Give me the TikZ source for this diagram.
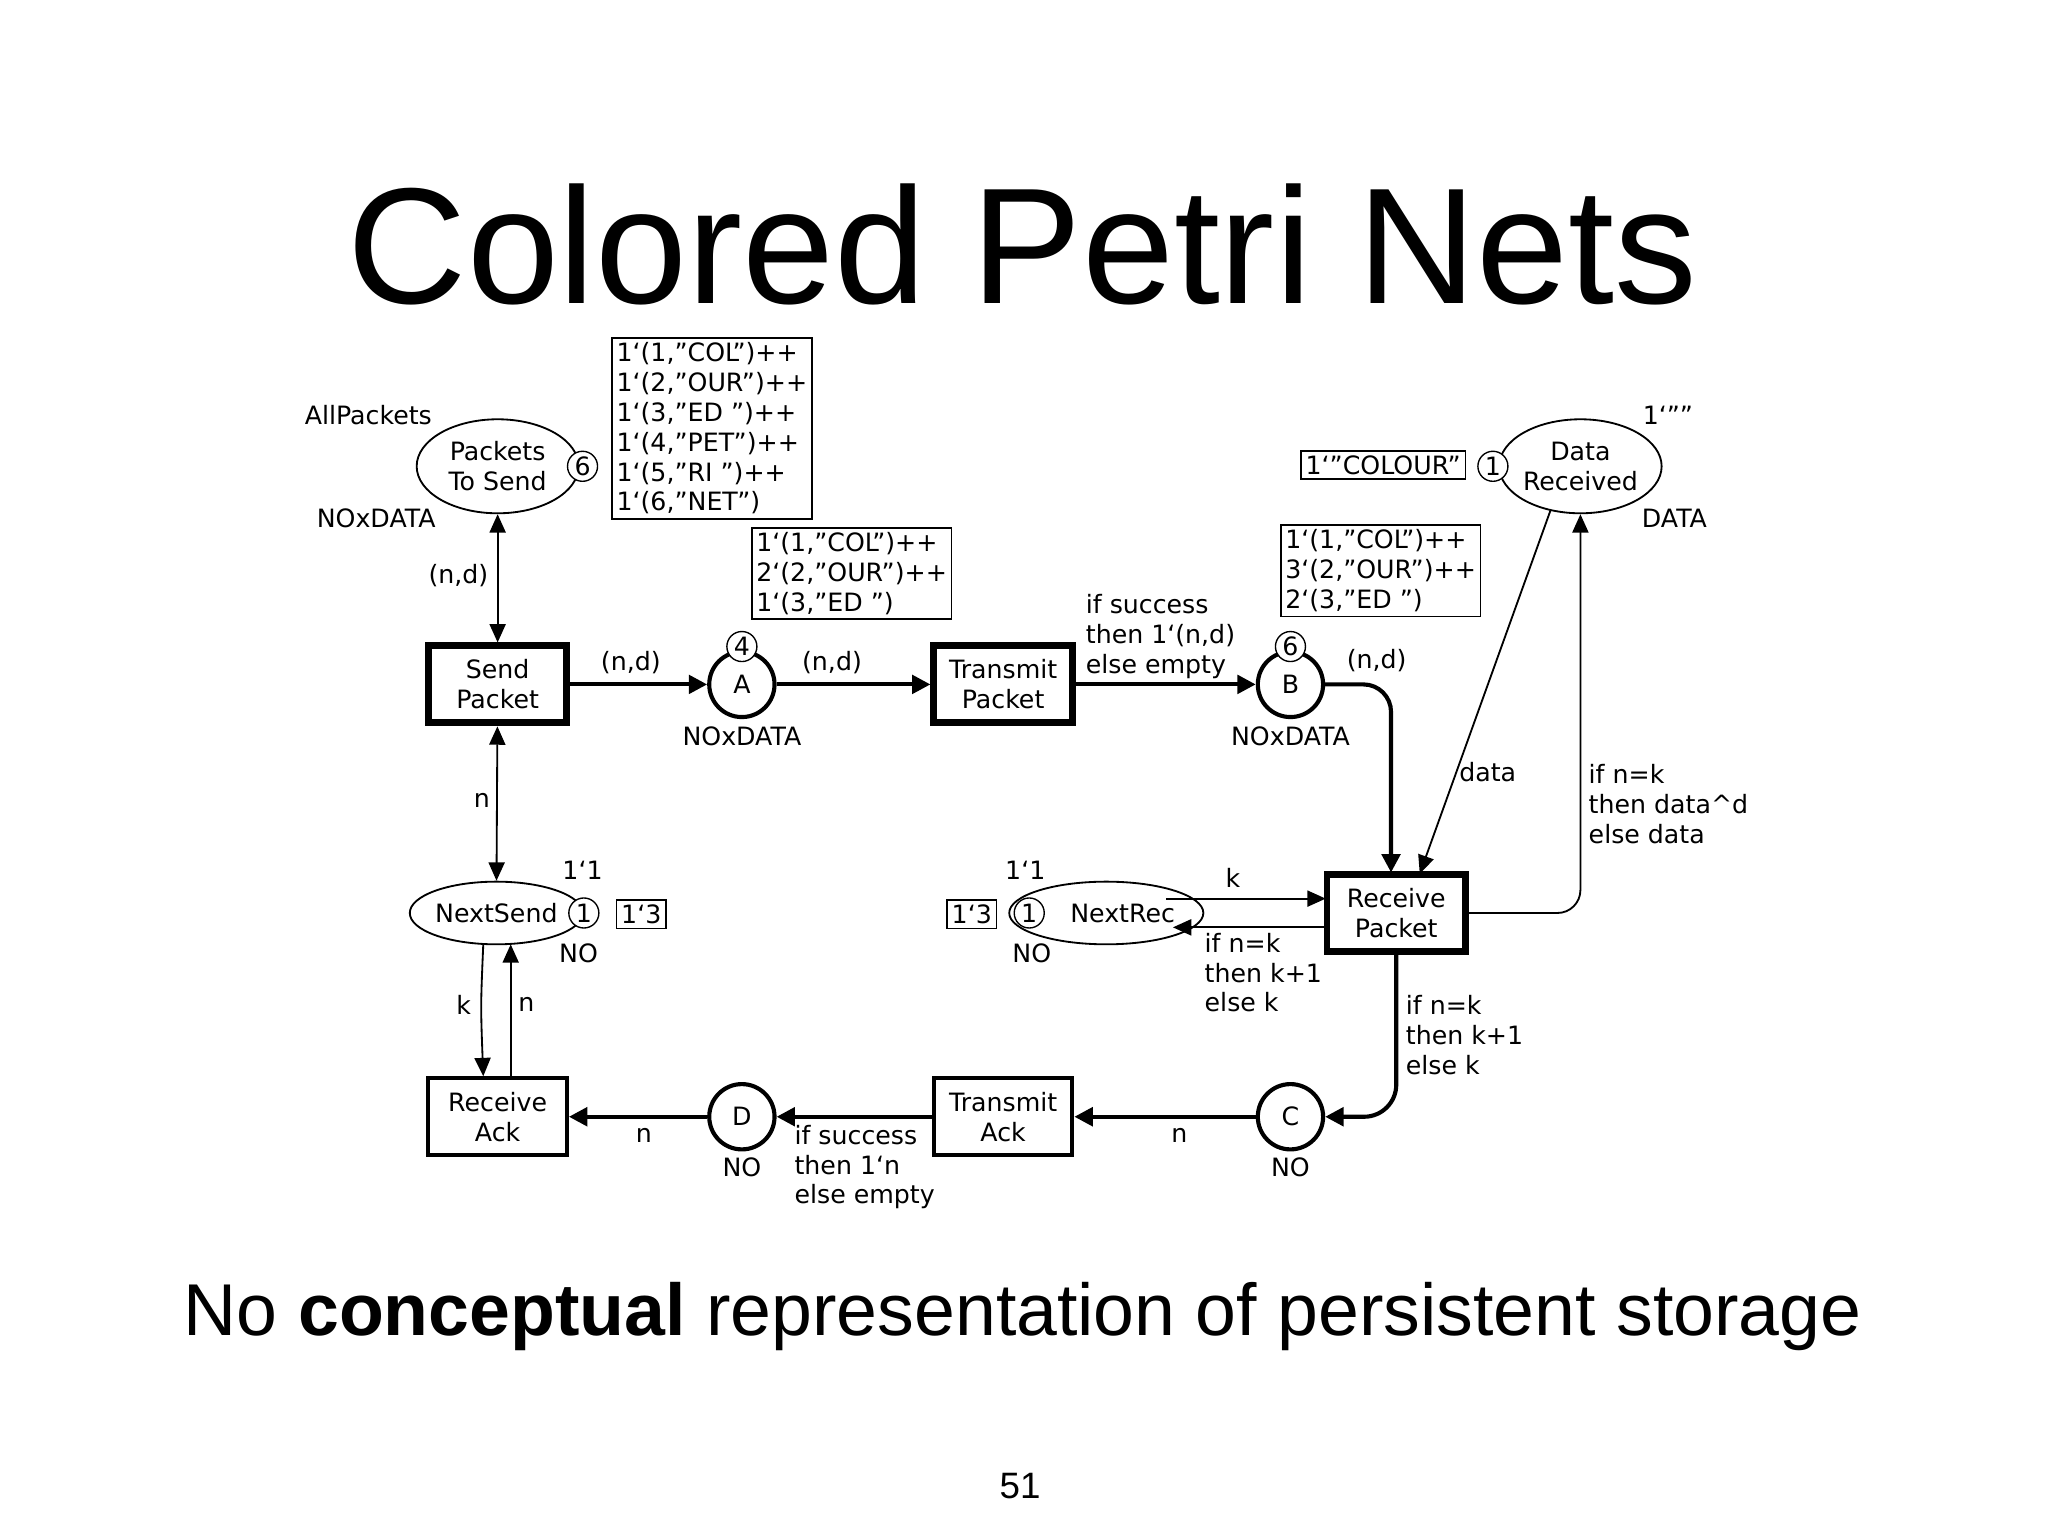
\documentclass[tikz,border=0pt]{standalone}
\usepackage{fontspec}
\setmainfont{DejaVu Sans}
\newfontfamily\titlefont{Liberation Sans}
\usetikzlibrary{arrows.meta,shapes.geometric}
\begin{document}
\begin{tikzpicture}[x=0.02cm,y=-0.02cm,
  every node/.style={font=\fontsize{11}{13}\selectfont},
  lbl/.style={inner sep=0pt,align=left},
  place/.style={draw,ellipse,line width=0.8pt,minimum width=2.48cm,minimum height=1.44cm,align=center,inner sep=0pt},
  smallplace/.style={draw,ellipse,line width=0.8pt,minimum width=2.3cm,minimum height=0.96cm,inner sep=0pt},
  cplace/.style={draw,circle,line width=1.8pt,minimum size=1cm,inner sep=0pt},
  token/.style={draw,circle,line width=0.6pt,minimum size=0.46cm,inner sep=0pt,fill=white},
  trans/.style={draw,rectangle,line width=1.8pt,minimum width=2.12cm,minimum height=1.18cm,align=center,inner sep=0pt},
  btrans/.style={trans,line width=3pt},
  mbox/.style={draw,rectangle,line width=0.7pt,align=left,inner sep=2pt},
  arc/.style={line width=1.8pt,-{Triangle[length=8pt,width=8pt]}},
  tarc/.style={line width=0.8pt,-{Triangle[length=8pt,width=7pt]}},
  darc/.style={line width=0.8pt,{Triangle[length=8pt,width=7pt]}-{Triangle[length=8pt,width=7pt]}}]
\useasboundingbox (0,0) rectangle (1568,1176);
\node[font=\titlefont\fontsize{72}{80}\selectfont] (title) at (783,187) {Colored Petri Nets};
\node[font=\titlefont\fontsize{32}{38}\selectfont] (sub) at (783,1008) {No \textbf{conceptual} representation of persistent storage};
\node[font=\titlefont\fontsize{16}{18}\selectfont] (pg) at (781,1138) {51};

% places
\node[place] (pts) at (381,357) {Packets\\To Send};
\node[token] (t6) at (446,357) {6};
\node (ap) at (282,318) {AllPackets};
\node (nd1) at (288,397) {NOxDATA};
\node[mbox] (m1) at (545,328) {1`(1,"COL")++\\1`(2,"OUR")++\\1`(3,"ED ")++\\1`(4,"PET")++\\1`(5,"RI ")++\\1`(6,"NET")};

\node[place,minimum width=2.4cm] (dr) at (1210,357) {Data\\Received};
\node[token] (t1) at (1143,357) {1};
\node[mbox] (m2) at (1059,356) {1`"COLOUR"};
\node (q) at (1277,318) {1`""};
\node (dt) at (1282,397) {DATA};

\node[cplace] (A) at (568,524) {A};
\node[token] (t4) at (568,495) {4};
\node (ndA) at (568,564) {NOxDATA};
\node[mbox] (mA) at (652,439) {1`(1,"COL")++\\2`(2,"OUR")++\\1`(3,"ED ")};

\node[cplace] (B) at (988,524) {B};
\node[token] (tB) at (988,495) {6};
\node (ndB) at (988,564) {NOxDATA};
\node[mbox] (mB) at (1057,437) {1`(1,"COL")++\\3`(2,"OUR")++\\2`(3,"ED ")};

\node[cplace] (C) at (988,855) {C};
\node (noC) at (988,894) {NO};
\node[cplace] (D) at (568,855) {D};
\node (noD) at (568,894) {NO};

\node[smallplace] (ns) at (380,699) {NextSend};
\node[token] (tns) at (447,699) {1};
\node[mbox] (mns) at (491,700) {1`3};
\node (ns11) at (446,666) {1`1};
\node (nsno) at (443,730) {NO};

\node[smallplace,minimum width=2.2cm] (nr) at (847,699) {\hspace{0.5cm}NextRec};
\node[token] (tnr) at (788,699) {1};
\node[mbox] (mnr) at (744,700) {1`3};
\node (nr11) at (785,666) {1`1};
\node (nrno) at (790,730) {NO};

% transitions
\node[btrans] (sp) at (381,524) {Send\\Packet};
\node[btrans] (tp) at (768,524) {Transmit\\Packet};
\node[btrans] (rp) at (1069,699) {Receive\\Packet};
\node[trans] (ta) at (768,855) {Transmit\\Ack};
\node[trans] (ra) at (381,855) {Receive\\Ack};

\coordinate (bturn) at (1065,524);
\coordinate (rptop) at (1065,668);
\coordinate (drturn) at (1210,699);
\coordinate (nrk1) at (893,688);
\coordinate (rpk1) at (1015,688);
\coordinate (rpk2) at (1015,710);
\coordinate (nrk2) at (898,710);
\coordinate (cturn) at (1069,855);
\coordinate (nsk1) at (370,723);
\coordinate (rak1) at (370,824);
\coordinate (ran1) at (391,824);
\coordinate (nsn1) at (391,723);

% arcs
\draw[darc] (pts) -- (sp);
\node (l1) at (351,441) {(n,d)};
\draw[arc] (sp) -- (A);
\node (l2) at (483,507) {(n,d)};
\draw[arc] (A) -- (tp);
\node (l3) at (637,507) {(n,d)};
\draw[arc] (tp) -- (B);
\node[lbl,anchor=north west] (l4) at (831,455) {if success\\then 1`(n,d)\\else empty};
\draw[arc,rounded corners=12pt] (B.east) -- (bturn) -- (rptop);
\node (l5) at (1054,506) {(n,d)};
\draw[tarc] (1187,391) -- (1087,669);
\node (l6) at (1139,591) {data};
\draw[tarc,rounded corners=10pt] (rp.east) -- (drturn) -- (dr.south);
\node[lbl,anchor=north west] (l7) at (1216,585) {if n=k\\then data\textasciicircum d\\else data};
\draw[tarc] (nrk1) -- (rpk1);
\node (l8) at (944,672) {k};
\draw[tarc] (rpk2) -- (nrk2);
\node[lbl,anchor=north west] (l9) at (922,714) {if n=k\\then k+1\\else k};
\draw[arc,rounded corners=14pt] (rp.south) -- (cturn) -- (C.east);
\node[lbl,anchor=north west] (l10) at (1076,762) {if n=k\\then k+1\\else k};
\draw[arc] (C) -- (ta);
\node (l11) at (903,869) {n};
\draw[arc] (ta) -- (D);
\node[lbl,anchor=north west] (l12) at (608,861) {if success\\then 1`n\\else empty};
\draw[arc] (D) -- (ra);
\node (l13) at (493,869) {n};
\draw[darc] (sp) -- (ns);
\node (l14) at (369,613) {n};
\draw[tarc] (nsk1) .. controls (368,770) .. (rak1);
\node (l15) at (355,769) {k};
\draw[tarc] (ran1) -- (nsn1);
\node (l16) at (403,769) {n};
\end{tikzpicture}
\end{document}
